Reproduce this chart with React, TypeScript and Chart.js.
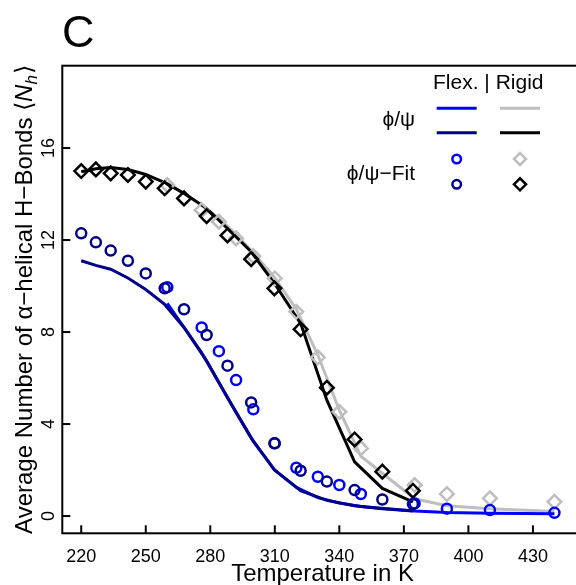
import React, { useEffect, useRef } from "react";
import { Chart, registerables } from "chart.js";

Chart.register(...registerables);

// Temperatures (K) of the two simulation sets
const tempsA = [220, 226.8, 233.7, 241.7, 250, 258.8, 267.8, 278.3, 288, 299, 309.8, 322, 334.2, 347.1, 360, 374.2];
const tempsB = [260, 276, 284, 292, 300, 310, 320, 330, 340, 350, 375, 390, 410, 440];

// Set A series (dark blue flex / black rigid)
const flexLineDark = [11.1, 10.9, 10.73, 10.35, 9.85, 9.2, 8.2, 6.75, 5.15, 3.4, 2.0, 1.1, 0.68, 0.45, 0.32, 0.22];
const rigidLineBlack = [14.97, 15.1, 15.15, 15.07, 14.85, 14.5, 14.03, 13.38, 12.5, 11.49, 10.12, 8.38, 5.04, 2.36, 1.2, 0.62];
const flexFitDark = [12.29, 11.9, 11.54, 11.1, 10.55, 9.9, 8.99, 7.87, 6.54, 4.94, 3.16, 1.97, 1.5, 1.13, 0.72, 0.52];
const rigidFitBlack = [15.0, 15.07, 14.9, 14.83, 14.54, 14.25, 13.81, 13.04, 12.2, 11.17, 9.9, 8.12, 5.58, 3.33, 1.93, 1.1];

// Set B series (blue flex / gray rigid)
const flexLineBlue = [9.25, 7.1, 5.8, 4.5, 3.25, 2.0, 1.25, 0.8, 0.57, 0.42, 0.22, 0.15, 0.12, 0.1];
const rigidLineGray = [14.5, 13.5, 12.95, 12.25, 11.45, 10.35, 9.0, 7.0, 4.6, 2.6, 0.75, 0.45, 0.32, 0.2];
const flexFitBlue = [9.95, 8.2, 7.17, 5.91, 4.64, 3.16, 2.1, 1.71, 1.35, 0.96, 0.55, 0.32, 0.26, 0.14];
const rigidFitGray = [14.39, 13.3, 12.8, 12.07, 11.3, 10.33, 8.88, 6.9, 4.53, 2.94, 1.35, 0.96, 0.77, 0.62];

const xTicks = [220, 250, 280, 310, 340, 370, 400, 430];
const yTicks = [0, 4, 8, 12, 16];

const BLUE = "#0000FF";
const DARKBLUE = "#00008B";
const GRAY = "#BEBEBE";
const BLACK = "#000000";
const FONT = "'Liberation Sans', Arial, Helvetica, sans-serif";

const pts = (xs: number[], ys: number[]) => xs.map((x, i) => ({ x, y: ys[i] }));

const CIRCLE_R = 5;
const DIAMOND_R = 6.8;
const MARK_W = 2.5;

function drawDiamond(ctx: CanvasRenderingContext2D, x: number, y: number, r: number, color: string) {
  ctx.beginPath();
  ctx.moveTo(x - r, y);
  ctx.lineTo(x, y - r);
  ctx.lineTo(x + r, y);
  ctx.lineTo(x, y + r);
  ctx.closePath();
  ctx.strokeStyle = color;
  ctx.lineWidth = MARK_W;
  ctx.stroke();
}
function drawCircle(ctx: CanvasRenderingContext2D, x: number, y: number, r: number, color: string) {
  ctx.beginPath();
  ctx.arc(x, y, r, 0, Math.PI * 2);
  ctx.strokeStyle = color;
  ctx.lineWidth = MARK_W;
  ctx.stroke();
}

const decor = {
  id: "decor",
  afterDraw(chart: any) {
    const { ctx, chartArea: ca, scales } = chart;
    const x = scales.x;
    const y = scales.y;
    ctx.save();
    // frame
    ctx.strokeStyle = BLACK;
    ctx.lineWidth = 2;
    ctx.strokeRect(ca.left, ca.top, ca.right - ca.left + 20, ca.bottom - ca.top);
    // x ticks (inward)
    ctx.lineWidth = 2;
    ctx.fillStyle = BLACK;
    ctx.font = `18px ${FONT}`;
    ctx.textAlign = "center";
    ctx.textBaseline = "alphabetic";
    xTicks.forEach((v) => {
      const px = x.getPixelForValue(v);
      ctx.beginPath();
      ctx.moveTo(px, ca.bottom);
      ctx.lineTo(px, ca.bottom - 8);
      ctx.stroke();
      ctx.fillText(String(v), px, 562);
    });
    // y ticks (inward) with rotated labels
    yTicks.forEach((v) => {
      const py = y.getPixelForValue(v);
      ctx.beginPath();
      ctx.moveTo(ca.left, py);
      ctx.lineTo(ca.left + 8, py);
      ctx.stroke();
      ctx.save();
      ctx.translate(54, py);
      ctx.rotate(-Math.PI / 2);
      ctx.fillText(String(v), 0, 0);
      ctx.restore();
    });
    // x title
    ctx.font = `24px ${FONT}`;
    ctx.fillText("Temperature in K", (ca.left + 582.8) / 2, 581);
    // y title
    ctx.save();
    ctx.translate(32, (ca.top + ca.bottom) / 2);
    ctx.rotate(-Math.PI / 2);
    const main = "Average Number of \u03B1\u2212helical H\u2212Bonds \u27E8";
    const fN = `italic 24px ${FONT}`;
    const fh = `italic 17px ${FONT}`;
    const fn = `24px ${FONT}`;
    ctx.font = fn;
    const w1 = ctx.measureText(main).width;
    ctx.font = fN;
    const w2 = ctx.measureText("N").width;
    ctx.font = fh;
    const w3 = ctx.measureText("h").width;
    ctx.font = fn;
    const w4 = ctx.measureText("\u27E9").width;
    const total = w1 + w2 + w3 + w4 + 1;
    let cx = -total / 2;
    ctx.textAlign = "left";
    ctx.font = fn;
    ctx.fillText(main, cx, 0);
    cx += w1;
    ctx.font = fN;
    ctx.fillText("N", cx, 0);
    cx += w2;
    ctx.font = fh;
    ctx.fillText("h", cx, 5);
    cx += w3 + 1;
    ctx.font = fn;
    ctx.fillText("\u27E9", cx, 0);
    ctx.restore();
    // panel letter
    ctx.textAlign = "left";
    ctx.font = `45px ${FONT}`;
    ctx.fillText("C", 62, 47);
    // legend
    ctx.font = `21px ${FONT}`;
    ctx.fillText("Flex. | Rigid", 433, 89);
    ctx.textAlign = "right";
    ctx.fillText("\u03D5/\u03C8", 415, 126);
    ctx.fillText("\u03D5/\u03C8\u2212Fit", 415, 180);
    ctx.lineWidth = 3;
    const legLine = (x0: number, x1: number, yy: number, c: string) => {
      ctx.beginPath();
      ctx.moveTo(x0, yy);
      ctx.lineTo(x1, yy);
      ctx.strokeStyle = c;
      ctx.stroke();
    };
    legLine(436.7, 476.7, 108.3, BLUE);
    legLine(500, 540, 108.3, GRAY);
    legLine(436.7, 476.7, 132.7, DARKBLUE);
    legLine(500, 540, 132.7, BLACK);
    drawCircle(ctx, 456.7, 159, 4.3, BLUE);
    drawDiamond(ctx, 520, 159, 6, GRAY);
    drawCircle(ctx, 456.7, 184.3, 4.3, DARKBLUE);
    drawDiamond(ctx, 520, 184.3, 6, BLACK);
    ctx.restore();
  },
};

export default function App() {
  const ref = useRef<HTMLCanvasElement>(null);
  useEffect(() => {
    if (!ref.current) return;
    const lineDs = (data: any, color: string) => ({
      type: "line" as const,
      data,
      borderColor: color,
      borderWidth: 3,
      pointRadius: 0,
      showLine: true,
      fill: false,
      tension: 0,
    });
    const markDs = (data: any, color: string, style: string, r: number) => ({
      type: "scatter" as const,
      data,
      borderColor: color,
      backgroundColor: "rgba(0,0,0,0)",
      pointStyle: style,
      pointRadius: r,
      pointBorderWidth: MARK_W,
      showLine: false,
    });
    const chart = new Chart(ref.current, {
      type: "scatter",
      data: {
        datasets: [
          markDs(pts(tempsA, flexFitDark), DARKBLUE, "circle", CIRCLE_R),
          markDs(pts(tempsB, flexFitBlue), BLUE, "circle", CIRCLE_R),
          markDs(pts(tempsA, rigidFitBlack), BLACK, "rectRot", DIAMOND_R),
          markDs(pts(tempsB, rigidFitGray), GRAY, "rectRot", DIAMOND_R),
          lineDs(pts(tempsA, flexLineDark), DARKBLUE),
          lineDs(pts(tempsB, flexLineBlue), BLUE),
          lineDs(pts(tempsA, rigidLineBlack), BLACK),
          lineDs(pts(tempsB, rigidLineGray), GRAY),
        ] as any,
      },
      options: {
        animation: false,
        responsive: false,
        events: [],
        layout: { padding: { left: 62.3, top: 65.7, right: 0, bottom: 51.7 } },
        plugins: { legend: { display: false }, tooltip: { enabled: false } },
        scales: {
          x: { type: "linear", min: 211.2, max: 445.7, display: false },
          y: { type: "linear", min: -0.75, max: 19.58, display: false },
        },
      },
      plugins: [decor],
    });
    return () => chart.destroy();
  }, []);
  return (
    <div style={{ position: "fixed", left: 0, top: 0, width: 576, height: 585, background: "#fff" }}>
      <canvas ref={ref} width={576} height={585} style={{ display: "block" }} />
    </div>
  );
}
